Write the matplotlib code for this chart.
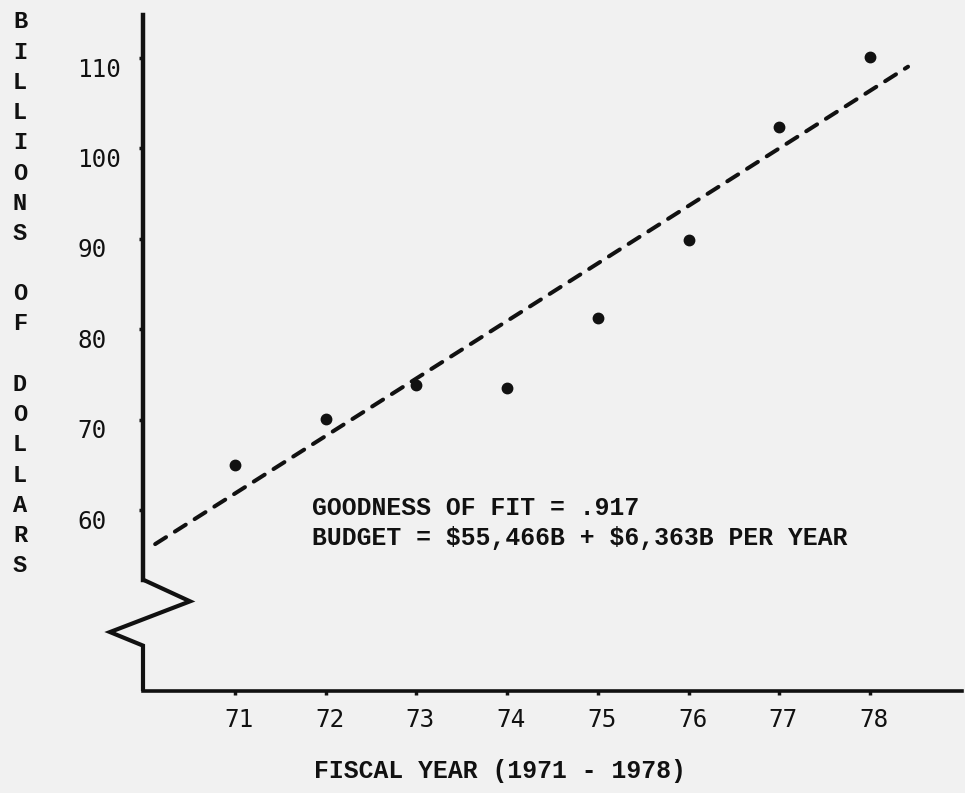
"""
Defense budget by fiscal year (1971 - 1978) with the least-squares trend line.
"""

import matplotlib
matplotlib.use('Agg')
import matplotlib.pyplot as plt
from matplotlib.transforms import ScaledTranslation, blended_transform_factory

# yearly totals, billions of dollars
years = [71, 72, 73, 74, 75, 76, 77, 78]
budget = [65.0, 70.1, 73.8, 73.5, 81.2, 89.9, 102.4, 110.1]

# trend line: budget = intercept + slope * (year - 70)
fit_intercept = 55.466
fit_slope = 6.363
fit_base_year = 70
fit_start, fit_end = 70.12, 78.42
goodness_of_fit = '.917'

y_ticks = [60, 70, 80, 90, 100, 110]
y_title = 'BILLIONS OF DOLLARS'
x_title = 'FISCAL YEAR (1971 - 1978)'

INK = '#111111'
PAPER = '#f1f1f1'
TYPE_SERIF = ['Liberation Mono', 'DejaVu Sans Mono']
TYPE_GOTHIC = ['DejaVu Sans Mono']

W, H = 965, 793


def main():
    fig = plt.figure(figsize=(W / 100, H / 100), dpi=100, facecolor=PAPER)
    # axes box: y axis at x=143px, x axis at y=691px
    ax = fig.add_axes([143 / W, 1 - 691 / H, 819 / W, 676 / H])
    ax.set_facecolor(PAPER)
    ax.set_xlim(69.986, 79.015)
    ax.set_ylim(39.98, 114.76)

    for side in ('top', 'right'):
        ax.spines[side].set_visible(False)
    ax.spines['left'].set_linewidth(3.2)
    ax.spines['left'].set_color(INK)
    ax.spines['left'].set_bounds(52.3, 114.76)
    ax.spines['bottom'].set_linewidth(2.6)
    ax.spines['bottom'].set_color(INK)

    # axis break below the scale
    brk = blended_transform_factory(ax.transAxes, ax.transData)
    ax.plot([0, 0.0574, -0.0403, 0, 0], [52.3, 49.9, 46.5, 45.0, 39.98],
            color=INK, lw=3.0, transform=brk, clip_on=False,
            solid_joinstyle='miter', solid_capstyle='butt')

    # y ticks, labels typed flush left
    ax.set_yticks(y_ticks)
    ax.set_yticklabels([str(v) for v in y_ticks], family=TYPE_GOTHIC, fontsize=17.5, color=INK)
    ax.tick_params(axis='y', direction='out', length=3, width=2.5, color=INK, pad=44.5)
    shift_y = ScaledTranslation(0, -0.09, fig.dpi_scale_trans)
    for lbl in ax.get_yticklabels():
        lbl.set_horizontalalignment('left')
        lbl.set_transform(lbl.get_transform() + shift_y)

    ax.set_xticks(years)
    ax.set_xticklabels([str(v) for v in years], family=TYPE_GOTHIC, fontsize=17.5, color=INK)
    ax.tick_params(axis='x', direction='out', length=3, width=2.5, color=INK, pad=9)
    shift_x = ScaledTranslation(0.04, 0, fig.dpi_scale_trans)
    for lbl in ax.get_xticklabels():
        lbl.set_transform(lbl.get_transform() + shift_x)

    ax.set_xlabel(x_title, family=TYPE_SERIF, fontsize=17.8, fontweight='bold', color=INK)
    ax.xaxis.set_label_coords((500 - 143) / 819, (691 - 759) / 676)

    # stacked vertical title
    for i, ch in enumerate(y_title):
        if ch == ' ':
            continue
        fig.text(20 / W, 1 - (22 + i * 30.2) / H, ch, family=TYPE_SERIF, fontweight='bold',
                 fontsize=17, color=INK, ha='center', va='center')

    ax.plot(years, budget, linestyle='none', marker='o', markersize=7.5, color=INK)

    fit_x = [fit_start, fit_end]
    fit_y = [fit_intercept + fit_slope * (x - fit_base_year) for x in fit_x]
    ax.plot(fit_x, fit_y, color=INK, lw=2.9, linestyle=(0, (3.2, 2.6)), dash_capstyle='round')

    eq = 'GOODNESS OF FIT = {}\nBUDGET = ${}B + ${}B PER YEAR'.format(
        goodness_of_fit,
        f'{fit_intercept:.3f}'.replace('.', ','),
        f'{fit_slope:.3f}'.replace('.', ','))
    ax.text(71.85, 58.6, eq, family=TYPE_SERIF, fontsize=17.8, fontweight='bold', color=INK,
            ha='left', va='center', linespacing=1.3, parse_math=False)

    fig.savefig('out.png', dpi=100, facecolor=PAPER)
    plt.close(fig)


if __name__ == '__main__':
    main()
